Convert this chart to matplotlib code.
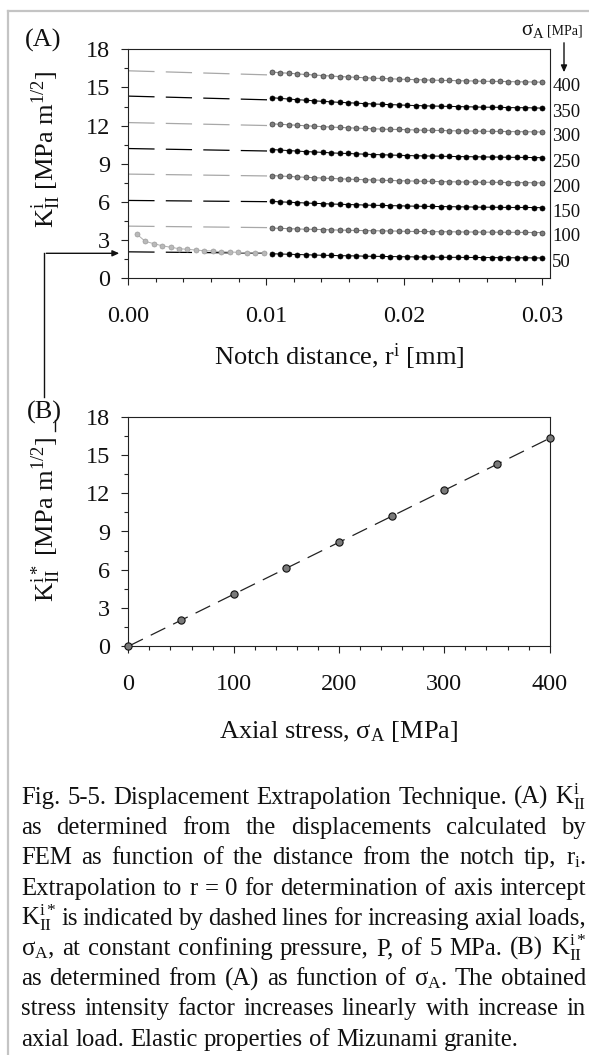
import matplotlib
matplotlib.use("Agg")
import matplotlib.pyplot as plt
from matplotlib.ticker import MultipleLocator
from matplotlib.lines import Line2D

plt.rcParams["font.family"] = ["Liberation Serif", "DejaVu Serif"]
plt.rcParams["mathtext.fontset"] = "custom"
plt.rcParams["mathtext.rm"] = "Liberation Serif"
plt.rcParams["mathtext.it"] = "Liberation Serif:italic"
plt.rcParams["mathtext.bf"] = "Liberation Serif:bold"

# ---- data ----
sigma_levels = [50, 100, 150, 200, 250, 300, 350, 400]
# axis intercepts K*_II (extrapolated to r = 0)
k_star = [2.08, 4.10, 6.12, 8.19, 10.20, 12.24, 14.32, 16.31]
# value of the extrapolation line where it meets the data
fit_end = [1.97, 3.98, 6.02, 8.04, 10.00, 12.00, 14.02, 15.98]

# near-tip nodes (only shown for 50 MPa)
r_tip = [0.00061, 0.00122, 0.00184, 0.00245, 0.00306, 0.00367, 0.00429, 0.00490,
         0.00551, 0.00612, 0.00673, 0.00735, 0.00796, 0.00857, 0.00918, 0.00980]
k_tip_50 = [3.48, 2.91, 2.72, 2.56, 2.44, 2.33, 2.28, 2.22,
            2.17, 2.15, 2.09, 2.07, 2.04, 2.01, 2.01, 1.99]

r_far = [0.01041, 0.01102, 0.01163, 0.01224, 0.01286, 0.01347, 0.01408, 0.01469,
         0.01531, 0.01592, 0.01653, 0.01714, 0.01776, 0.01837, 0.01898, 0.01959,
         0.02020, 0.02082, 0.02143, 0.02204, 0.02265, 0.02327, 0.02388, 0.02449,
         0.02510, 0.02571, 0.02633, 0.02694, 0.02755, 0.02816, 0.02878, 0.02939, 0.03000]

k_50 = [1.93, 1.91, 1.89, 1.87, 1.85, 1.83, 1.81, 1.80, 1.78, 1.77, 1.76, 1.74, 1.73, 1.72, 1.71, 1.70,
        1.69, 1.68, 1.67, 1.67, 1.66, 1.65, 1.65, 1.64, 1.64, 1.63, 1.63, 1.62, 1.62, 1.61, 1.61, 1.60, 1.60]
k_100 = [3.95, 3.93, 3.90, 3.88, 3.86, 3.85, 3.83, 3.81, 3.79, 3.78, 3.76, 3.75, 3.74, 3.73, 3.72, 3.71,
         3.69, 3.68, 3.68, 3.67, 3.66, 3.66, 3.65, 3.64, 3.64, 3.63, 3.63, 3.62, 3.62, 3.61, 3.61, 3.60, 3.60]
k_150 = [6.04, 6.01, 5.98, 5.95, 5.92, 5.89, 5.87, 5.84, 5.82, 5.80, 5.78, 5.76, 5.74, 5.73, 5.71, 5.70,
         5.68, 5.67, 5.66, 5.65, 5.64, 5.63, 5.62, 5.61, 5.60, 5.59, 5.59, 5.58, 5.57, 5.57, 5.57, 5.56, 5.55]
k_200 = [8.08, 8.04, 8.01, 7.97, 7.94, 7.91, 7.88, 7.85, 7.82, 7.80, 7.77, 7.75, 7.73, 7.71, 7.69, 7.67,
         7.66, 7.64, 7.63, 7.62, 7.60, 7.59, 7.58, 7.57, 7.56, 7.55, 7.55, 7.54, 7.53, 7.52, 7.52, 7.51, 7.50]
k_250 = [10.12, 10.08, 10.04, 10.00, 9.96, 9.93, 9.90, 9.86, 9.83, 9.81, 9.78, 9.76, 9.73, 9.71, 9.69, 9.67,
         9.65, 9.63, 9.62, 9.61, 9.60, 9.58, 9.57, 9.56, 9.55, 9.54, 9.53, 9.53, 9.51, 9.51, 9.50, 9.49, 9.48]
k_300 = [12.15, 12.10, 12.07, 12.03, 11.99, 11.96, 11.92, 11.89, 11.86, 11.83, 11.81, 11.78, 11.75, 11.73, 11.71, 11.70,
         11.68, 11.66, 11.64, 11.63, 11.62, 11.60, 11.59, 11.58, 11.57, 11.56, 11.55, 11.55, 11.53, 11.53, 11.52, 11.51, 11.50]
k_350 = [14.20, 14.14, 14.09, 14.04, 14.00, 13.95, 13.91, 13.87, 13.83, 13.80, 13.77, 13.73, 13.70, 13.68, 13.65, 13.63,
         13.60, 13.58, 13.56, 13.54, 13.53, 13.51, 13.50, 13.48, 13.47, 13.45, 13.45, 13.44, 13.42, 13.41, 13.41, 13.39, 13.38]
k_400 = [16.22, 16.16, 16.12, 16.07, 16.02, 15.98, 15.94, 15.90, 15.86, 15.83, 15.80, 15.76, 15.73, 15.71, 15.68, 15.66,
         15.64, 15.61, 15.60, 15.58, 15.56, 15.55, 15.53, 15.52, 15.51, 15.49, 15.48, 15.48, 15.46, 15.45, 15.44, 15.43, 15.42]
k_far = [k_50, k_100, k_150, k_200, k_250, k_300, k_350, k_400]

sigma_b = [0] + sigma_levels
k_b = [0.0] + k_star

caption = [
    ["Fig.", "5-5.", "Displacement", "Extrapolation", "Technique.", "(A)", r"K$^{\mathrm{i}}_{\mathrm{II}}$"],
    "as determined from the displacements calculated by".split(),
    "FEM as function of the distance from the notch tip,".split() + [r"r$_{\mathrm{i}}$."],
    "Extrapolation to r = 0 for determination of axis intercept".split(),
    [r"K$^{\mathrm{i}*}_{\mathrm{II}}$"] + "is indicated by dashed lines for increasing axial loads,".split(),
    [r"σ$_{\mathrm{A}}$,"] + "at constant confining pressure, P, of 5 MPa. (B)".split() + [r"K$^{\mathrm{i}*}_{\mathrm{II}}$"],
    "as determined from (A) as function of".split() + [r"σ$_{\mathrm{A}}$.", "The", "obtained"],
    "stress intensity factor increases linearly with increase in".split(),
    "axial load. Elastic properties of Mizunami granite.".split(),
]

# ---- figure ----
W, H = 589, 1055
fig = plt.figure(figsize=(W / 100, H / 100), dpi=100)


def fx(x):
    return x / W


def fy(y):
    return 1 - y / H


TICK = 17.5
ax_a = fig.add_axes([fx(128.3), fy(278.3), (550 - 128.3) / W, (278.3 - 49.3) / H])
ax_b = fig.add_axes([fx(128.3), fy(646.3), (549.7 - 128.3) / W, (646.3 - 416.7) / H])

for ax in (ax_a, ax_b):
    for s in ax.spines.values():
        s.set_linewidth(0.8)
        s.set_color("#222222")
    ax.tick_params(which="both", direction="out", top=False, right=False, width=0.8, colors="#222222")
    ax.tick_params(which="major", length=5, labelsize=TICK, labelcolor="#111111")
    ax.tick_params(which="minor", length=3)
    ax.tick_params(axis="y", pad=8)
    ax.tick_params(axis="x", pad=15)
    ax.set_ylim(0, 18)
    ax.yaxis.set_major_locator(MultipleLocator(3))
    ax.yaxis.set_minor_locator(MultipleLocator(1.5))

# panel A
ax_a.set_xlim(0, 0.03056)
ax_a.xaxis.set_major_locator(MultipleLocator(0.01))
ax_a.xaxis.set_minor_locator(MultipleLocator(0.002))
ax_a.xaxis.set_major_formatter(matplotlib.ticker.FormatStrFormatter("%.2f"))

for i, (lev, ks) in enumerate(zip(sigma_levels, k_far)):
    black = i % 2 == 0
    dash_col = "black" if black else "#a8a8a8"
    line_col = "black" if black else "#8c8c8c"
    face = "black" if black else "#7d7d7d"
    edge = "black" if black else "#3c3c3c"
    ax_a.plot([0, r_far[0]], [k_star[i], fit_end[i]], color=dash_col, lw=0.9,
              dashes=(21, 9), zorder=2)
    ax_a.plot(r_far, ks, color=line_col, lw=0.7, zorder=3)
    ax_a.plot(r_far, ks, "o", ms=3.6, mfc=face, mec=edge, mew=0.5, zorder=4)
    ax_a.text(0.03073, ks[-1] - 0.35, str(lev), fontsize=13.5, ha="left", va="center",
              color="#111111", clip_on=False)

ax_a.plot(r_tip, k_tip_50, color="#b0b0b0", lw=0.7, zorder=3)
ax_a.plot(r_tip, k_tip_50, "o", ms=3.6, mfc="#b9b9b9", mec="#9c9c9c", mew=0.5, zorder=4)

# panel B
ax_b.set_xlim(0, 400)
ax_b.xaxis.set_major_locator(MultipleLocator(100))
ax_b.xaxis.set_minor_locator(MultipleLocator(20))
ax_b.plot([sigma_b[0], sigma_b[-1]], [k_b[0], k_b[-1]], color="#222222", lw=0.9,
          dashes=(13, 7), zorder=2)
ax_b.plot(sigma_b, k_b, "o", ms=5.2, mfc="#7a7a7a", mec="#111111", mew=0.8,
          zorder=4, clip_on=False)

# labels
LBL = 19
fig.text(fx(46), fy(149), r"K$^{\mathrm{i}}_{\mathrm{II}}$ [MPa m$^{1/2}$]", rotation=90,
         ha="center", va="center", fontsize=LBL, color="#111111")
fig.text(fx(46), fy(519), r"K$^{\mathrm{i}*}_{\mathrm{II}}$ [MPa m$^{1/2}$]", rotation=90,
         ha="center", va="center", fontsize=LBL, color="#111111")
fig.text(fx(339), fy(357), r"Notch distance, r$^{\mathrm{i}}$ [mm]", ha="center", va="center",
         fontsize=LBL, color="#111111")
fig.text(fx(339), fy(732), r"Axial stress, σ$_{\mathrm{A}}$ [MPa]", ha="center", va="center",
         fontsize=LBL, color="#111111")
fig.text(fx(43), fy(40), "(A)", ha="center", va="center", fontsize=LBL, color="#111111")
fig.text(fx(44), fy(412), "(B)", ha="center", va="center", fontsize=LBL, color="#111111")

fig.text(fx(521), fy(31), r"σ$_{\mathrm{A}}$", ha="left", va="center", fontsize=15, color="#111111")
fig.text(fx(547), fy(31), "[MPa]", ha="left", va="center", fontsize=10, color="#111111")
fig.add_artist(matplotlib.patches.FancyArrowPatch(
    (fx(564), fy(40)), (fx(564), fy(75)), transform=fig.transFigure,
    arrowstyle="-|>,head_length=4,head_width=1.8", lw=1.0, color="#111111"))

# connector from panel A intercept to panel B
fig.add_artist(Line2D([fx(44), fx(44)], [fy(253.3), fy(397)], transform=fig.transFigure,
                      lw=1.0, color="#111111"))
fig.add_artist(matplotlib.patches.FancyArrowPatch(
    (fx(43.5), fy(253.3)), (fx(122), fy(253.3)), transform=fig.transFigure,
    arrowstyle="-|>,head_length=4,head_width=1.8", lw=1.0, color="#111111"))
fig.add_artist(Line2D([fx(55), fx(55)], [fy(420), fy(431)], transform=fig.transFigure,
                      lw=1.0, color="#111111"))

# page border
fig.add_artist(Line2D([fx(7.5), fx(589)], [fy(10.5), fy(10.5)], transform=fig.transFigure,
                      lw=1.6, color="#c4c4c4"))
fig.add_artist(Line2D([fx(7.5), fx(7.5)], [fy(10.5), fy(1055)], transform=fig.transFigure,
                      lw=1.6, color="#c4c4c4"))

# caption, justified
fig.canvas.draw()
rend = fig.canvas.get_renderer()
probe = fig.text(0, 0, " ".join(caption[0]), fontsize=10)
w10 = probe.get_window_extent(rend).width
probe.remove()
cap_size = 10 * 563 / w10
x0, x1 = 21, 586
for j, words in enumerate(caption):
    yb = 804 + 30.2 * j
    ts = [fig.text(0, fy(yb), w, fontsize=cap_size, va="baseline", ha="left", color="#111111")
          for w in words]
    ws = [t.get_window_extent(rend).width for t in ts]
    if j < len(caption) - 1:
        gap = (x1 - x0 - sum(ws)) / (len(ws) - 1)
    else:
        gap = cap_size * 100 / 72 * 0.25
    x = x0
    for t, w in zip(ts, ws):
        t.set_x(fx(x))
        x += w + gap

fig.savefig("out.png", dpi=100)
